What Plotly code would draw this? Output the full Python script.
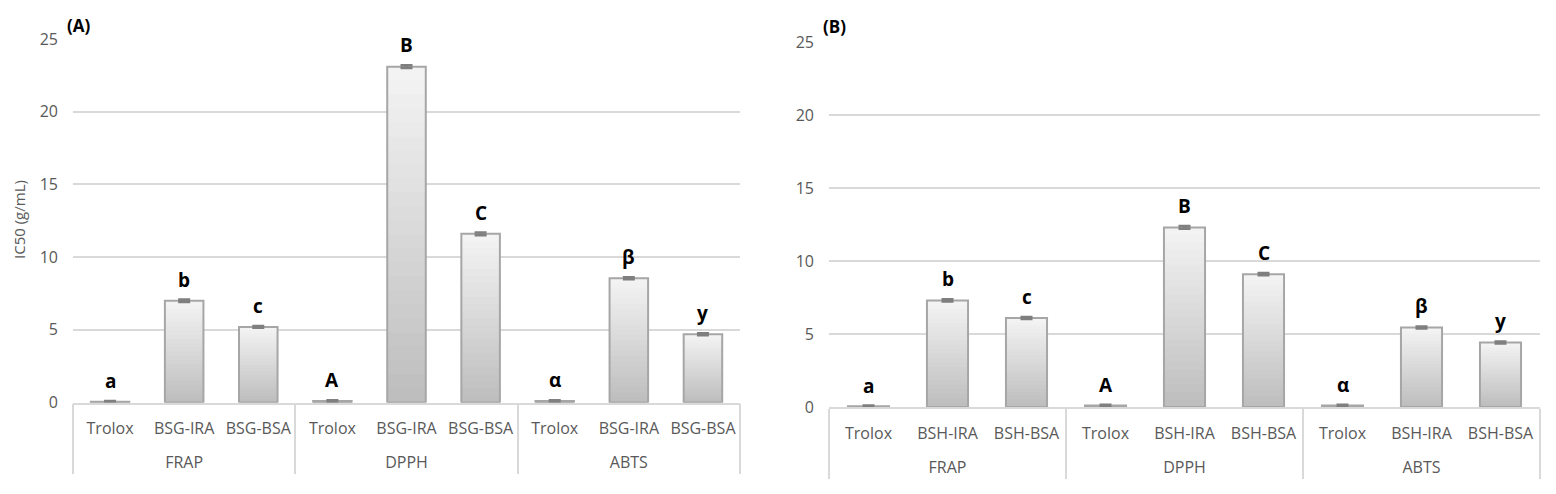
import plotly.graph_objects as go

# ---------------- data ----------------
groups = ["FRAP", "DPPH", "ABTS"]
subs_A = ["Trolox", "BSG-IRA", "BSG-BSA"]
subs_B = ["Trolox", "BSH-IRA", "BSH-BSA"]

vals_A = [0.05, 7.0, 5.2, 0.1, 23.1, 11.6, 0.1, 8.55, 4.7]
err_A = [0.05, 0.08, 0.06, 0.05, 0.1, 0.09, 0.05, 0.07, 0.07]
vals_B = [0.05, 7.3, 6.1, 0.1, 12.3, 9.1, 0.1, 5.45, 4.42]
err_B = [0.05, 0.08, 0.07, 0.05, 0.09, 0.07, 0.05, 0.07, 0.07]
letters = ["a", "b", "c", "A", "B", "C", "α", "β", "y"]

y_ticks = [0, 5, 10, 15, 20, 25]

# page body has an 8px margin -> figure is 8px smaller, coords offset by 8
OFF = 8
W, H = 1556 - OFF, 494 - OFF
GRID = "#d9d9d9"
TXT = "#595959"
FONT = "Open Sans"

N_LAYERS = 24
TOP_RGB = (243, 243, 243)
BOT_RGB = (190, 190, 190)


def px(x):
    return (x - OFF) / W


def py(y):
    return (H - (y - OFF)) / H


def xcats(subs):
    lvl1, lvl2 = [], []
    for g in groups:
        for s in subs:
            lvl1.append("<br>" + g)   # leading break pushes group row down
            lvl2.append(s)
    return [lvl1, lvl2]


def layer_color(k):
    t = k / (N_LAYERS - 1)
    c = [round(TOP_RGB[i] + (BOT_RGB[i] - TOP_RGB[i]) * t) for i in range(3)]
    return "rgb(%d,%d,%d)" % tuple(c)


fig = go.Figure()
annotations = []


def add_panel(subs, vals, errs, xa, ya):
    x = xcats(subs)
    for k in range(N_LAYERS):
        fig.add_trace(go.Bar(
            x=x, y=[v * (1 - k / N_LAYERS) for v in vals],
            marker=dict(color=layer_color(k), line=dict(width=0)),
            width=0.52, xaxis=xa, yaxis=ya,
            hoverinfo="skip", showlegend=False))
    fig.add_trace(go.Bar(
        x=x, y=vals,
        marker=dict(color="rgba(0,0,0,0)", line=dict(color="#a6a6a6", width=2)),
        width=0.52, xaxis=xa, yaxis=ya,
        error_y=dict(type="data", array=errs, color="#7f7f7f", thickness=2.5, width=6),
        hoverinfo="skip", showlegend=False))
    for i, (v, e, t) in enumerate(zip(vals, errs, letters)):
        annotations.append(dict(
            text=t, x=i, y=v + e, xref=xa, yref=ya, xanchor="center",
            yanchor="bottom", yshift=5, showarrow=False,
            font=dict(family=FONT, size=19, color="#000000", weight="bold")))


add_panel(subs_A, vals_A, err_A, "x", "y")
add_panel(subs_B, vals_B, err_B, "x2", "y2")

xcommon = dict(
    type="multicategory", showline=True, linecolor=GRID, linewidth=1.5,
    showgrid=False, showdividers=True, dividercolor=GRID, dividerwidth=1.5,
    tickfont=dict(family=FONT, size=16, color=TXT), tickangle=0, ticks="",
    ticklabelstandoff=11, automargin=False, fixedrange=True)
ycommon = dict(
    range=[0, 25], tickvals=y_ticks, showgrid=True, gridcolor=GRID, gridwidth=1.5,
    showline=False, zeroline=False, ticks="",
    tickfont=dict(family=FONT, size=16, color=TXT), ticklabelstandoff=14,
    automargin=False, fixedrange=True)

annotations += [
    dict(text="(A)", x=px(65), y=py(25), xref="paper", yref="paper",
         xanchor="left", yanchor="middle", showarrow=False,
         font=dict(family=FONT, size=17, color="#000000", weight="bold")),
    dict(text="(B)", x=px(821), y=py(26.5), xref="paper", yref="paper",
         xanchor="left", yanchor="middle", showarrow=False,
         font=dict(family=FONT, size=17, color="#000000", weight="bold")),
    dict(text="IC50 (g/mL)", x=px(19), y=py(220), xref="paper", yref="paper",
         xanchor="center", yanchor="middle", showarrow=False, textangle=-90,
         font=dict(family=FONT, size=15, color=TXT)),
]

fig.update_layout(
    width=W, height=H, template="none",
    paper_bgcolor="white", plot_bgcolor="white",
    margin=dict(l=0, r=0, t=0, b=0),
    barmode="overlay", showlegend=False,
    font=dict(family=FONT, color=TXT),
    xaxis=dict(domain=[px(73), px(740)], anchor="y", **xcommon),
    yaxis=dict(domain=[py(402.5), py(39)], anchor="x", **ycommon),
    xaxis2=dict(domain=[px(829), px(1540)], anchor="y2", **xcommon),
    yaxis2=dict(domain=[py(407), py(42)], anchor="x2", **ycommon),
    annotations=annotations,
)

fig.write_html("out.html")
